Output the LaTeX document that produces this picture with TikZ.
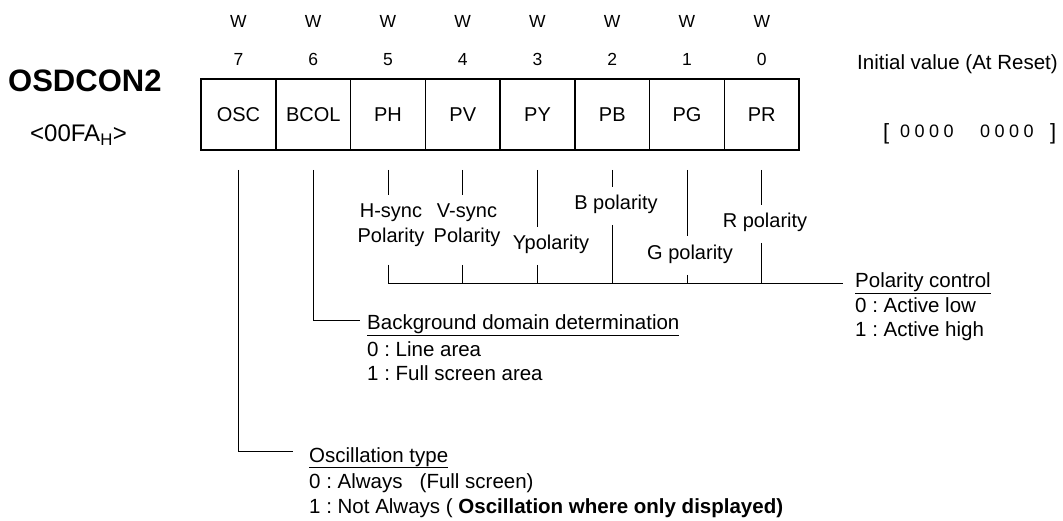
\documentclass[tikz,border=0pt]{standalone}
\usepackage{fontspec}
\setmainfont{Liberation Sans}
\newfontfamily\rstfont[LetterSpace=25]{Liberation Sans}
\usepackage{tikz}
\usetikzlibrary{positioning}
\frenchspacing

\begin{document}
\begin{tikzpicture}[x=1pt, y=-1pt,
  cell/.style={rectangle, draw, line width=1.4pt, minimum width=74.75pt, minimum height=71pt, inner sep=0pt, outer sep=0pt, text height=14pt, text depth=0pt, font=\fontsize{20}{24}\selectfont},
  bitlbl/.style={anchor=base, inner sep=0pt, font=\fontsize{17.5}{21}\selectfont},
  txt/.style={anchor=base west, inner sep=0pt, font=\fontsize{20.5}{25}\selectfont},
  pollbl/.style={anchor=base, inner sep=0pt, font=\fontsize{20}{24}\selectfont},
  conn/.style={line width=0.8pt}
]
\useasboundingbox (0,0) rectangle (1063,521);

% register name and address
\node[anchor=base west, inner sep=0pt, font=\fontsize{31}{35}\selectfont\bfseries] (reg) at (8,92) {OSDCON2};
\node[anchor=base west, inner sep=0pt, font=\fontsize{24}{28}\selectfont] (addr) at (30,142) {<00FA\textsubscript{H}>};

% bit cells
\node[cell] (osc) at (238.5,114.5) {OSC};
\node[cell, right=0pt of osc] (bcol) {BCOL};
\node[cell, right=0pt of bcol] (ph) {PH};
\node[cell, right=0pt of ph] (pv) {PV};
\node[cell, right=0pt of pv] (py) {PY};
\node[cell, right=0pt of py] (pb) {PB};
\node[cell, right=0pt of pb] (pg) {PG};
\node[cell, right=0pt of pg] (pr) {PR};

\foreach \c/\n in {osc/7, bcol/6, ph/5, pv/4, py/3, pb/2, pg/1, pr/0} {
  \node[bitlbl] (w\n) at (\c |- 0,28) {W};
  \node[bitlbl] (b\n) at (\c |- 0,66) {\n};
}

% initial value
\node[txt] (initval) at (857,70) {Initial value (At Reset)};
\node[anchor=base west, inner sep=0pt, font=\fontsize{22}{26}\selectfont] (rstopen) at (883,140) {[};
\node[anchor=base west, inner sep=0pt, font=\fontsize{18}{22}\rstfont] (rsthi) at (900,138) {0000};
\node[anchor=base west, inner sep=0pt, font=\fontsize{18}{22}\rstfont] (rstlo) at (980,138) {0000};
\node[anchor=base west, inner sep=0pt, font=\fontsize{22}{26}\selectfont] (rstclose) at (1050,140) {]};

% polarity labels
\node[pollbl] (hsync) at (391,218) {H-sync};
\node[pollbl] (hsyncp) at (391,243) {Polarity};
\node[pollbl] (vsync) at (467,218) {V-sync};
\node[pollbl] (vsyncp) at (467,243) {Polarity};
\node[pollbl] (ypol) at (551,250) {Ypolarity};
\node[pollbl] (bpol) at (616,210) {B polarity};
\node[pollbl] (gpol) at (690,260) {G polarity};
\node[pollbl] (rpol) at (765,228) {R polarity};

% descriptions
\node[txt] (poltitle) at (855,288) {\underline{Polarity control}};
\node[txt] (pol0) at (855,313) {0 : Active low};
\node[txt] (pol1) at (855,337) {1 : Active high};

\node[txt] (bgtitle) at (367,330) {\underline{Background domain determination}};
\node[txt] (bg0) at (367,356) {0 : Line area};
\node[txt] (bg1) at (367,381) {1 : Full screen area};

\node[txt] (osctitle) at (309,462) {\underline{Oscillation type}};
\node[txt] (osc0) at (309,488) {0 : Always\ \ \ (Full screen)};
\node[txt] (osc1) at (309,513) {1 : Not Always ( \textbf{Oscillation where only displayed)}};

% connectors
\coordinate (polend) at (843,283);
\coordinate (bgend) at (360,320);
\coordinate (oscend) at (293,451);

\draw[conn] ([yshift=-20pt]osc.south) |- (oscend);
\draw[conn] ([yshift=-20pt]bcol.south) |- (bgend);
\draw[conn] (ph.south |- 0,265) |- (polend);
\foreach \c/\a/\b in {ph/195/265, pv/195/265, py/227/265, pb/187/225, pg/236/275, pr/205/243} {
  \draw[conn] ([yshift=-20pt]\c.south) -- (\c.south |- 0,\a);
  \draw[conn] (\c.south |- 0,\b) -- (\c.south |- polend);
}
\end{tikzpicture}
\end{document}
